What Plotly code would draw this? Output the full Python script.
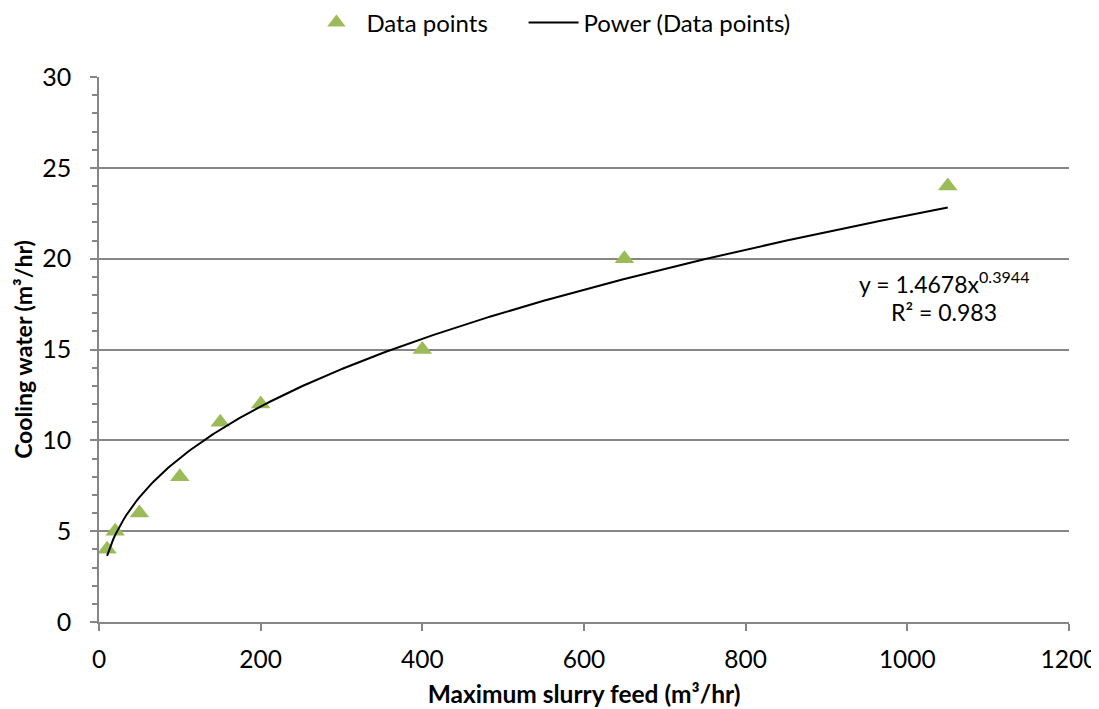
import numpy as np
import plotly.graph_objects as go

# Data
slurry_feed = [10, 20, 50, 100, 150, 200, 400, 650, 1050]
cooling_water = [4, 5, 6, 8, 11, 12, 15, 20, 24]

# Excel power trendline shown on the chart
trend_coef = 1.4678
trend_exp = 0.3944
r_squared = 0.983

x_ticks = [0, 200, 400, 600, 800, 1000, 1200]
y_ticks = [0, 5, 10, 15, 20, 25, 30]

FONT = "Lato, 'Open Sans', sans-serif"
GRAY = "#868686"
GREEN = "#9BBB59"

tx = np.linspace(min(slurry_feed), max(slurry_feed), 400)
ty = trend_coef * tx ** trend_exp

fig = go.Figure()
fig.add_trace(go.Scatter(
    x=slurry_feed, y=cooling_water, mode="markers",
    name="Data points&nbsp;&nbsp;&nbsp;&nbsp;&nbsp;",
    marker=dict(symbol="triangle-up", size=17, color=GREEN),
    cliponaxis=False,
))
fig.add_trace(go.Scatter(
    x=tx, y=ty, mode="lines", name="Power (Data points)",
    line=dict(color="black", width=2),
))

fig.add_annotation(
    x=1045, y=18.7, xref="x", yref="y", showarrow=False,
    text=f"y = {trend_coef}x<sup>{trend_exp}</sup>",
    font=dict(family=FONT, size=23, color="black"),
)
fig.add_annotation(
    x=1045, y=17.05, xref="x", yref="y", showarrow=False,
    text=f"R² = {r_squared}",
    font=dict(family=FONT, size=23, color="black"),
)

fig.update_layout(
    width=1099, height=709,
    margin=dict(l=91, r=38, t=69, b=95, autoexpand=False),
    paper_bgcolor="white", plot_bgcolor="white",
    font=dict(family=FONT, size=24, color="black"),
    showlegend=True,
    legend=dict(orientation="h", x=0.494, xanchor="center", xref="container",
                y=0.979, yanchor="middle", yref="container",
                font=dict(family=FONT, size=24), itemwidth=50, tracegroupgap=0),
    xaxis=dict(
        range=[0, 1200], tickvals=x_ticks, ticks="outside", ticklen=7,
        tickcolor=GRAY, tickwidth=1.5, showline=True, linecolor=GRAY, linewidth=1.5,
        showgrid=False, zeroline=False, ticklabelstandoff=8,
        title=dict(text="<b>Maximum slurry feed (m³/hr)</b>", font=dict(family=FONT, size=24.5), standoff=14),
        tickfont=dict(family=FONT, size=24.5),
    ),
    yaxis=dict(
        range=[0, 30], tickvals=y_ticks, ticks="outside", ticklen=7,
        tickcolor=GRAY, tickwidth=1.5, showline=True, linecolor=GRAY, linewidth=1.5,
        showgrid=True, gridcolor=GRAY, gridwidth=1.5, zeroline=False,
        ticklabelstandoff=14,
        minor=dict(dtick=1, ticks="outside", ticklen=5, tickcolor=GRAY, showgrid=False),
        title=dict(text="<b>Cooling water (m³/hr)</b>", font=dict(family=FONT, size=23), standoff=3),
        tickfont=dict(family=FONT, size=25),
    ),
)

fig.write_html("out.html")
